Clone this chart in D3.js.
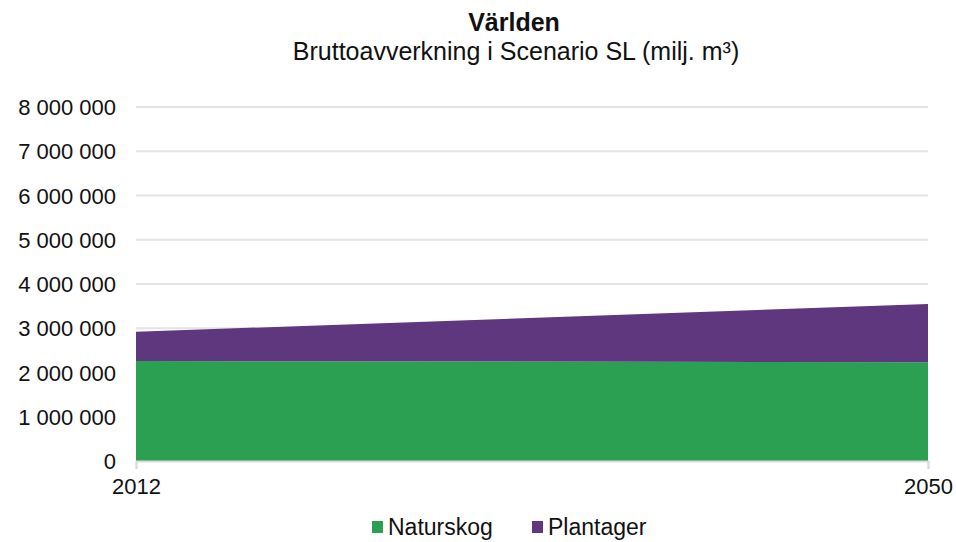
<!DOCTYPE html>
<html>
<head>
<meta charset="utf-8">
<script src="https://cdn.jsdelivr.net/npm/d3@7"></script>
<style>
  body { margin: 0; background: #fff; }
  text { font-family: "Liberation Sans", Arial, sans-serif; fill: #111; }
</style>
</head>
<body>
<svg id="chart" width="956" height="542"></svg>
<script>
const years = [2012, 2050];
const naturskog = [2260000, 2230000];
const plantager = [660000, 1320000];
const seriesNames = ["Naturskog", "Plantager"];
const seriesColors = ["#2ca052", "#5e377e"];
const yTicks = [0, 1000000, 2000000, 3000000, 4000000, 5000000, 6000000, 7000000, 8000000];

const svg = d3.select("#chart");
const margin = {left: 136, right: 28, top: 107, bottom: 81};
const width = 956 - margin.left - margin.right;
const height = 542 - margin.top - margin.bottom;

const x = d3.scaleLinear().domain(d3.extent(years)).range([margin.left, margin.left + width]);
const y = d3.scaleLinear().domain([0, 8000000]).range([margin.top + height, margin.top]);

// thousand separator as space
const fmt = v => d3.format(",")(v).replace(/,/g, " ");

// title
svg.append("text").attr("x", 514).attr("y", 31).attr("text-anchor", "middle")
  .style("font-size", "25px").style("font-weight", "bold").text("Världen");
svg.append("text").attr("x", 516).attr("y", 60).attr("text-anchor", "middle")
  .style("font-size", "25px")
  .text("Bruttoavverkning i Scenario SL (milj. m³)");

// gridlines
svg.append("g").selectAll("line").data(yTicks.slice(1)).join("line")
  .attr("x1", margin.left).attr("x2", margin.left + width)
  .attr("y1", d => y(d)).attr("y2", d => y(d))
  .attr("stroke", "#e4e4e4").attr("stroke-width", 2);

// stacked areas
const table = years.map((yr, i) => ({year: yr, Naturskog: naturskog[i], Plantager: plantager[i]}));
const stacked = d3.stack().keys(seriesNames)(table);
const area = d3.area()
  .x(d => x(d.data.year))
  .y0(d => y(d[0]))
  .y1(d => y(d[1]));

svg.append("g").selectAll("path").data(stacked).join("path")
  .attr("d", area)
  .attr("fill", (d, i) => seriesColors[i]);

// y axis labels
const yAxis = d3.axisLeft(y).tickValues(yTicks).tickFormat(fmt).tickSize(0).tickPadding(20);
const gy = svg.append("g").attr("transform", `translate(${margin.left},0)`).call(yAxis);
gy.select(".domain").remove();
gy.selectAll("text").style("font-size", "22px").attr("dy", "0.35em").style("fill", "#111");

// x axis
const xAxis = d3.axisBottom(x).tickValues(years).tickFormat(d3.format("d")).tickSize(8).tickPadding(9);
const gx = svg.append("g").attr("transform", `translate(0,${margin.top + height})`).call(xAxis);
gx.select(".domain").attr("stroke", "#dcdcdc").attr("stroke-width", 2);
gx.selectAll(".tick line").attr("stroke", "#dcdcdc").attr("stroke-width", 2);
gx.selectAll("text").style("font-size", "22px").style("fill", "#111");

// legend
const legendX = [372, 532];
const legend = svg.append("g").selectAll("g").data(seriesNames).join("g")
  .attr("transform", (d, i) => `translate(${legendX[i]},527)`);
legend.append("rect").attr("x", 0).attr("y", -6).attr("width", 11).attr("height", 12)
  .attr("fill", (d, i) => seriesColors[i]);
legend.append("text").attr("x", 16).attr("y", 0).attr("dy", "0.35em")
  .style("font-size", "23px").text(d => d);
</script>
</body>
</html>
